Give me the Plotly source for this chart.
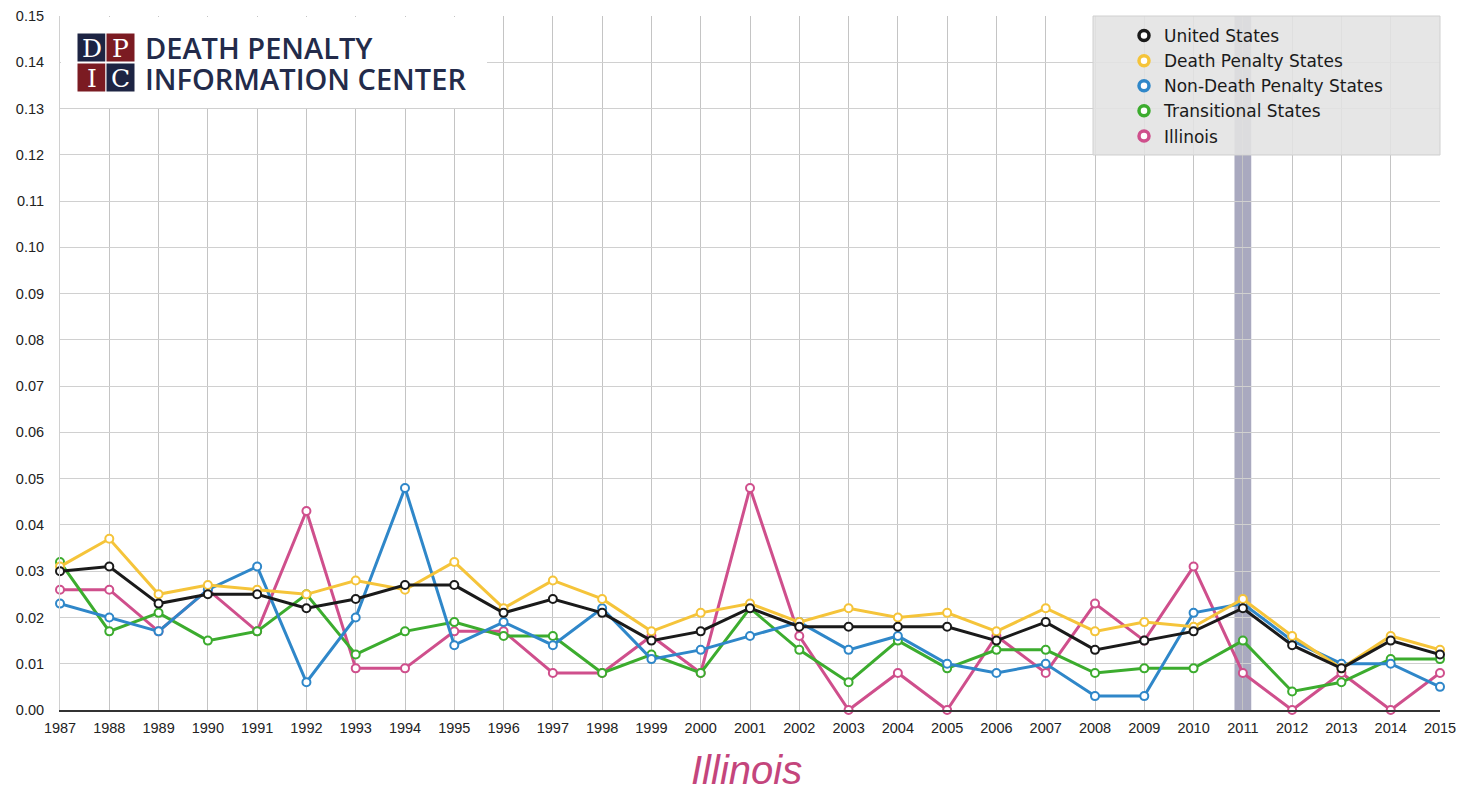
import plotly.graph_objects as go

# ---- data -------------------------------------------------------------
years = list(range(1987, 2016))

united_states = [0.030, 0.031, 0.023, 0.025, 0.025, 0.022, 0.024, 0.027, 0.027, 0.021,
                 0.024, 0.021, 0.015, 0.017, 0.022, 0.018, 0.018, 0.018, 0.018, 0.015,
                 0.019, 0.013, 0.015, 0.017, 0.022, 0.014, 0.009, 0.015, 0.012]

death_penalty_states = [0.031, 0.037, 0.025, 0.027, 0.026, 0.025, 0.028, 0.026, 0.032, 0.022,
                        0.028, 0.024, 0.017, 0.021, 0.023, 0.019, 0.022, 0.020, 0.021, 0.017,
                        0.022, 0.017, 0.019, 0.018, 0.024, 0.016, 0.009, 0.016, 0.013]

non_death_penalty_states = [0.023, 0.020, 0.017, 0.026, 0.031, 0.006, 0.020, 0.048, 0.014, 0.019,
                            0.014, 0.022, 0.011, 0.013, 0.016, 0.019, 0.013, 0.016, 0.010, 0.008,
                            0.010, 0.003, 0.003, 0.021, 0.023, 0.015, 0.010, 0.010, 0.005]

transitional_states = [0.032, 0.017, 0.021, 0.015, 0.017, 0.025, 0.012, 0.017, 0.019, 0.016,
                       0.016, 0.008, 0.012, 0.008, 0.022, 0.013, 0.006, 0.015, 0.009, 0.013,
                       0.013, 0.008, 0.009, 0.009, 0.015, 0.004, 0.006, 0.011, 0.011]

illinois = [0.026, 0.026, 0.017, 0.026, 0.017, 0.043, 0.009, 0.009, 0.017, 0.017,
            0.008, 0.008, 0.016, 0.008, 0.048, 0.016, 0.000, 0.008, 0.000, 0.016,
            0.008, 0.023, 0.015, 0.031, 0.008, 0.000, 0.008, 0.000, 0.008]

highlight_year = 2011
y_ticks = [i / 100 for i in range(16)]

series = [
    ("United States", united_states, "#1a1a1a"),
    ("Death Penalty States", death_penalty_states, "#f5c43a"),
    ("Non-Death Penalty States", non_death_penalty_states, "#2f87c9"),
    ("Transitional States", transitional_states, "#3cac2e"),
    ("Illinois", illinois, "#cf4f8c"),
]

# ---- geometry helpers (pixel -> paper) ----------------------------------
W, H = 1460, 796
L, R, T, B = 60, 1440, 16, 710


def px(p):
    return (p - L) / (R - L)


def py(p):
    return (B - p) / (B - T)


FONT = "Liberation Sans, Arial, sans-serif"

fig = go.Figure()

# data lines, drawn so the national average sits on top
for name, vals, color in reversed(series):
    fig.add_trace(go.Scatter(
        x=years, y=vals, mode="lines+markers", name=name,
        line=dict(color=color, width=3),
        marker=dict(symbol="circle", size=8, color="white",
                    line=dict(color=color, width=2)),
        cliponaxis=False, showlegend=False,
    ))

# legend entries (marker only)
for name, vals, color in series:
    fig.add_trace(go.Scatter(
        x=[None], y=[None], mode="markers", name=name,
        marker=dict(symbol="circle", size=10, color="white",
                    line=dict(color=color, width=3.5)),
    ))

shapes = []
# highlight band for the abolition year
shapes.append(dict(type="rect", xref="x", yref="paper",
                   x0=highlight_year - 0.17, x1=highlight_year + 0.17, y0=0, y1=1,
                   fillcolor="#a9a9bf", line=dict(width=0), layer="below"))
# legend panel
shapes.append(dict(type="rect", xref="paper", yref="paper",
                   x0=px(1093), x1=px(1440), y0=py(155), y1=py(16),
                   fillcolor="rgba(226,226,226,0.88)",
                   line=dict(color="#d0d0d0", width=1), layer="above"))
# logo panel
shapes.append(dict(type="rect", xref="paper", yref="paper",
                   x0=px(61), x1=px(487), y0=py(108), y1=py(17),
                   fillcolor="white", line=dict(width=0), layer="above"))
navy, red = "#1d2443", "#7b1b22"
squares = [((77, 33), navy, "D"), ((106, 33), red, "P"),
           ((77, 63), red, "I"), ((106, 63), navy, "C")]
annotations = []
for (x0, y0), c, letter in squares:
    shapes.append(dict(type="rect", xref="paper", yref="paper",
                       x0=px(x0), x1=px(x0 + 29), y0=py(y0 + 29), y1=py(y0),
                       fillcolor=c, line=dict(color="white", width=1), layer="above"))
    annotations.append(dict(x=px(x0 + 14.5), y=py(y0 + 15), xref="paper", yref="paper",
                            xanchor="center", yanchor="middle",
                            text=letter, showarrow=False,
                            font=dict(family="DejaVu Serif, Liberation Serif, serif",
                                      size=25, color="white")))

for text, yc in [("DEATH PENALTY", 47), ("INFORMATION CENTER", 78)]:
    annotations.append(dict(x=px(143), y=py(yc), xref="paper", yref="paper",
                            xanchor="left", yanchor="middle", height=30, valign="middle",
                            text=text, showarrow=False,
                            font=dict(family="Open Sans, sans-serif", size=29,
                                      color="#232b4a", weight=600)))

# chart caption
annotations.append(dict(x=px(746), y=py(770), xref="paper", yref="paper",
                        xanchor="center", yanchor="middle",
                        text="<i>Illinois</i>", showarrow=False,
                        font=dict(family=FONT, size=40, color="#c4457c")))

fig.update_layout(
    width=W, height=H,
    margin=dict(l=L, r=W - R, t=T, b=H - B, pad=0, autoexpand=False),
    paper_bgcolor="white", plot_bgcolor="white",
    shapes=shapes, annotations=annotations,
    legend=dict(x=px(1124), y=py(18), xanchor="left", yanchor="top",
                bgcolor="rgba(0,0,0,0)", borderwidth=0,
                font=dict(family="DejaVu Sans, sans-serif", size=17, color="#1a1a1a")),
    xaxis=dict(range=[years[0], years[-1]], tickmode="array", tickvals=years,
               ticktext=[str(y) for y in years], showgrid=True, gridcolor="#c4c4c4",
               gridwidth=1, zeroline=False, showline=True, linecolor="#333333",
               linewidth=2, ticks="", tickfont=dict(family=FONT, size=14.5, color="#222"),
               ticklabelstandoff=4, automargin=False, fixedrange=True),
    yaxis=dict(range=[0, 0.15], tickmode="array", tickvals=y_ticks,
               ticktext=[f"{v:.2f}" for v in y_ticks], showgrid=True, gridcolor="#d0d0d0",
               gridwidth=1, zeroline=False, showline=True, linecolor="#d0d0d0",
               linewidth=1, ticks="", tickfont=dict(family=FONT, size=14.5, color="#222"),
               ticklabelstandoff=12, automargin=False, fixedrange=True),
)

fig.write_html("out.html")
